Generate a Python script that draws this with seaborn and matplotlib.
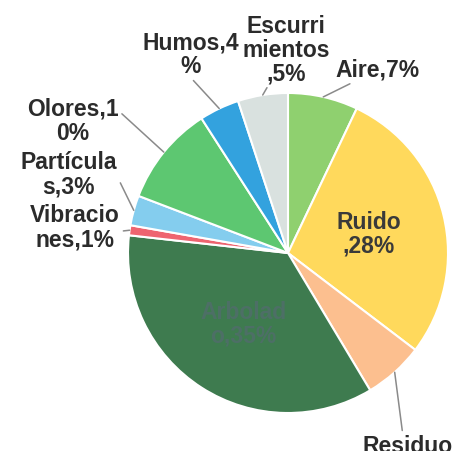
"""Pie chart of environmental complaint categories."""

import matplotlib

matplotlib.use("Agg")
import matplotlib.pyplot as plt
import numpy as np
import seaborn as sns

sns.set_theme(style="white")
plt.rcParams["font.family"] = ["Liberation Sans", "DejaVu Sans"]

# data, clockwise from 12 o'clock
categories = ["Aire", "Ruido", "Residuo", "Arbolado", "Vibraciones",
              "Partículas", "Olores", "Humos", "Escurrimientos"]
shares = [7, 28, 6, 35, 1, 3, 10, 4, 5]
labels = ["Aire,7%", "Ruido\n,28%", "Residuo\ns,6%", "Arbolad\no,35%", "Vibracio\nnes,1%",
          "Partícula\ns,3%", "Olores,1\n0%", "Humos,4\n%", "Escurri\nmientos\n,5%"]
colors = ["#8fd06f", "#ffd95c", "#fcbf8f", "#3e7b4f", "#ee6470",
          "#84cdee", "#5dc771", "#33a2de", "#d9e1df"]

# label placement (data units, pie radius = 1); the rest sit inside their wedge
outside_pos = {
    "Aire": ((0.56, 1.15), (0.25, 0.0), "center"),
    "Escurrimientos": ((-0.01, 1.275), (0.3, 0.0), "center"),
    "Humos": ((-0.61, 1.245), (0.5, 0.0), "center"),
    "Olores": ((-1.345, 0.83), (1.0, 0.7), "center"),
    "Partículas": ((-1.37, 0.495), (1.0, 0.45), "center"),
    "Vibraciones": ((-1.33, 0.165), (1.0, 0.4), "center"),
    "Residuo": ((0.745, -1.13), (0.45, 1.0), "top"),
}
inside_color = {"Ruido": "#3a3a3a", "Arbolado": "#4d6f66"}

W, H = 453, 452
fig = plt.figure(figsize=(W / 100, H / 100), dpi=100)
cx, cy, r = 288, 254, 160
ax = fig.add_axes([(cx - r) / W, (H - cy - r) / H, 2 * r / W, 2 * r / H])

wedges, _ = ax.pie(
    shares,
    colors=colors,
    startangle=90,
    counterclock=False,
    radius=1.0,
    wedgeprops=dict(edgecolor="white", linewidth=1.5),
)
ax.set_xlim(-1, 1)
ax.set_ylim(-1, 1)
ax.set_aspect("equal")
ax.axis("off")

for wedge, name, text in zip(wedges, categories, labels):
    mid = np.deg2rad((wedge.theta1 + wedge.theta2) / 2)
    edge = (np.cos(mid), np.sin(mid))
    if name in outside_pos:
        pos, relpos, va = outside_pos[name]
        ax.annotate(
            text,
            xy=edge,
            xytext=pos,
            ha="center",
            va=va,
            multialignment="center",
            fontsize=16.5,
            fontweight="bold",
            color="#2b2b2b",
            linespacing=1.05,
            annotation_clip=False,
            arrowprops=dict(arrowstyle="-", color="#8a8a8a", lw=1.1,
                            relpos=relpos, shrinkA=0, shrinkB=0),
        )
    else:
        ax.text(
            0.52 * edge[0],
            0.52 * edge[1],
            text,
            ha="center",
            va="center",
            multialignment="center",
            fontsize=16.5,
            fontweight="bold",
            color=inside_color[name],
            linespacing=1.05,
        )

fig.savefig("out.png", dpi=100, facecolor="white")
